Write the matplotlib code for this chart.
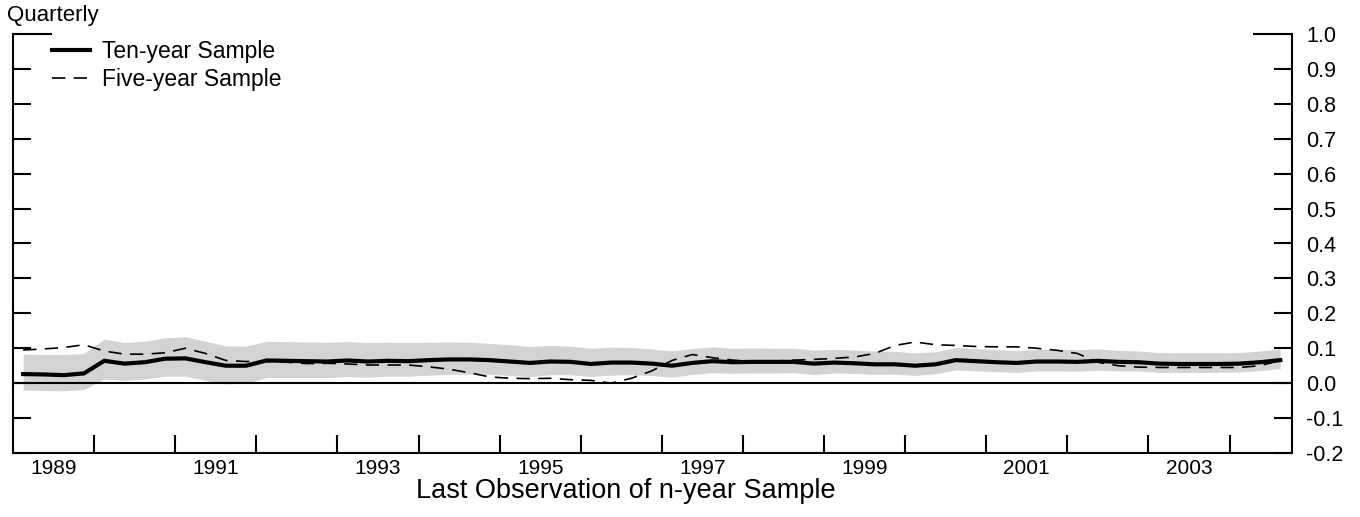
import numpy as np
import pandas as pd
import matplotlib
matplotlib.use("Agg")
import matplotlib.pyplot as plt

plt.rcParams['font.family'] = ['Liberation Sans', 'DejaVu Sans']

# quarterly observations, 1989Q1 .. 2004Q3
quarters = pd.period_range('1989Q1', '2004Q3', freq='Q')

ten_year = [0.026, 0.025, 0.023, 0.028, 0.064, 0.056, 0.060, 0.070, 0.071, 0.060,
            0.050, 0.050, 0.065, 0.064, 0.063, 0.062, 0.065, 0.062, 0.064, 0.063,
            0.066, 0.068, 0.068, 0.066, 0.062, 0.058, 0.062, 0.061, 0.055, 0.059,
            0.059, 0.056, 0.050, 0.058, 0.063, 0.060, 0.061, 0.061, 0.061, 0.056,
            0.059, 0.057, 0.054, 0.054, 0.050, 0.054, 0.066, 0.063, 0.060, 0.058,
            0.062, 0.062, 0.061, 0.064, 0.061, 0.060, 0.056, 0.055, 0.055, 0.055,
            0.056, 0.060, 0.066]

five_year = [0.095, 0.098, 0.102, 0.110, 0.092, 0.083, 0.083, 0.087, 0.100, 0.085,
             0.065, 0.062, 0.062, 0.060, 0.056, 0.057, 0.055, 0.052, 0.052, 0.052,
             0.047, 0.040, 0.030, 0.018, 0.014, 0.013, 0.014, 0.010, 0.008, 0.000,
             0.014, 0.035, 0.065, 0.082, 0.073, 0.066, 0.062, 0.063, 0.066, 0.068,
             0.071, 0.075, 0.085, 0.108, 0.118, 0.110, 0.108, 0.105, 0.104, 0.104,
             0.100, 0.094, 0.085, 0.060, 0.050, 0.046, 0.045, 0.045, 0.045, 0.045,
             0.045, 0.050, 0.065]

band_hi = [0.083, 0.082, 0.082, 0.085, 0.126, 0.116, 0.120, 0.130, 0.133, 0.120,
           0.107, 0.106, 0.120, 0.119, 0.118, 0.117, 0.119, 0.116, 0.117, 0.116,
           0.117, 0.118, 0.117, 0.114, 0.110, 0.105, 0.108, 0.106, 0.100, 0.103,
           0.102, 0.098, 0.092, 0.099, 0.104, 0.100, 0.101, 0.100, 0.100, 0.095,
           0.097, 0.095, 0.092, 0.091, 0.087, 0.090, 0.102, 0.099, 0.096, 0.093,
           0.097, 0.097, 0.096, 0.098, 0.094, 0.092, 0.088, 0.087, 0.087, 0.087,
           0.088, 0.092, 0.098]

band_lo = [-0.020, -0.021, -0.022, -0.018, 0.012, 0.008, 0.012, 0.020, 0.020, 0.008,
           -0.002, 0.000, 0.016, 0.016, 0.016, 0.016, 0.019, 0.017, 0.020, 0.020,
           0.023, 0.025, 0.026, 0.025, 0.022, 0.019, 0.024, 0.024, 0.019, 0.023,
           0.024, 0.022, 0.017, 0.025, 0.030, 0.028, 0.029, 0.029, 0.030, 0.025,
           0.029, 0.028, 0.025, 0.026, 0.022, 0.027, 0.038, 0.035, 0.033, 0.031,
           0.035, 0.035, 0.034, 0.037, 0.035, 0.035, 0.031, 0.031, 0.031, 0.031,
           0.032, 0.036, 0.042]

year_ticks = list(range(1990, 2005))
year_labels = ['1989', '1991', '1993', '1995', '1997', '1999', '2001', '2003']
y_ticks = [-0.2, -0.1, 0.0, 0.1, 0.2, 0.3, 0.4, 0.5, 0.6, 0.7, 0.8, 0.9, 1.0]
y_labels = ['-0.2', '-0.1', '0.0', '0.1', '0.2', '0.3', '0.4', '0.5', '0.6',
            '0.7', '0.8', '0.9', '1.0']

# mid-quarter decimal years
x = np.array([q.year + (q.quarter - 0.5) / 4 for q in quarters])

fig = plt.figure(figsize=(13.6, 5.17), dpi=100)
ax = fig.add_axes([13 / 1360, 1 - 453 / 517, 1279 / 1360, 419 / 517])

ax.fill_between(x, band_lo, band_hi, color='#d3d3d3', lw=0, zorder=1)
ax.axhline(0, color='black', lw=1.5, zorder=2)
ax.plot(x, ten_year, color='black', lw=3, solid_joinstyle='round',
        label='Ten-year Sample', zorder=4)
ax.plot(x, five_year, color='black', lw=1.2, linestyle=(0, (8, 5)),
        label='Five-year Sample', zorder=3)

ax.set_xlim(1989.0, 2004.77)
ax.set_ylim(-0.2, 1.0)

for s in ['left', 'right', 'bottom']:
    ax.spines[s].set_linewidth(1.5)
ax.spines['top'].set_visible(False)

ax.set_xticks(year_ticks)
ax.set_xticklabels([])
ax.set_xticks([int(y) + 0.5 for y in year_labels], minor=True)
ax.set_xticklabels(year_labels, minor=True)
ax.tick_params(axis='x', which='major', direction='in', length=13, width=1.5,
               top=False)
ax.tick_params(axis='x', which='minor', length=0, pad=4, labelsize=15)

ax.set_yticks(y_ticks)
ax.set_yticklabels(y_labels)
ax.tick_params(axis='y', direction='in', length=13, width=1.5, left=True,
               right=True, labelleft=False, labelright=True, pad=10,
               labelsize=15.5)
top_tick = ax.yaxis.get_major_ticks()[-1]
top_tick.tick1line.set_markersize(28)
top_tick.tick2line.set_markersize(28)

ax.legend(loc='upper left', bbox_to_anchor=(52 / 1360, 1 - 40 / 517),
          bbox_transform=fig.transFigure, frameon=False, fontsize=16.5,
          handlelength=1.65, handletextpad=0.55, labelspacing=0.2,
          borderpad=0, borderaxespad=0)

fig.text(7 / 1360, 1 - 15 / 517, 'Quarterly', fontsize=16, va='center', ha='left')
fig.text(626 / 1360, 1 - 491 / 517, 'Last Observation of n-year Sample',
         fontsize=19.5, va='center', ha='center')

fig.savefig('out.png', dpi=100)
